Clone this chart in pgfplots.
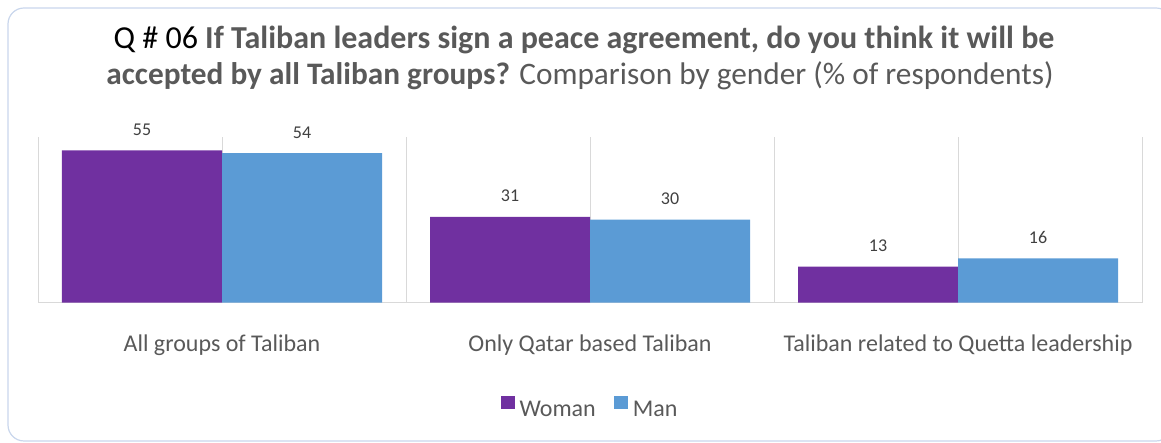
\documentclass[border=0pt]{standalone}
\usepackage{fontspec}
\setmainfont{Carlito}
\usepackage{pgfplots}
\pgfplotsset{compat=1.18}
\definecolor{woman}{HTML}{7030A0}
\definecolor{man}{HTML}{5B9BD5}
\definecolor{txt}{HTML}{595959}
\definecolor{lbl}{HTML}{404040}
\definecolor{gridc}{HTML}{D9D9D9}
\definecolor{framec}{HTML}{C9D6EC}
\begin{document}
\begin{tikzpicture}[x=1pt,y=1pt]
\path[use as bounding box] (0,0) rectangle (1161,443);
\draw[framec, line width=1.2pt, rounded corners=16pt] (8,2) rectangle (1172,435);
\node[font=\fontsize{32}{38}\selectfont, color=txt] at (584,403) {{\color{black}Q \# 06} \textbf{If Taliban leaders sign a peace agreement, do you think it will be}};
\node[font=\fontsize{31.3}{38}\selectfont, color=txt] at (580,367) {\textbf{accepted by all Taliban groups?} Comparison by gender (\% of respondents)};
\begin{axis}[
  at={(38pt,140.4pt)}, anchor=south west,
  scale only axis, width=1104pt, height=166pt,
  xmin=-0.5, xmax=2.5, ymin=0, ymax=60,
  ybar=0pt, bar width=160pt,
  axis x line=bottom, axis y line=none,
  x axis line style={gridc, line width=1pt, -},
  xtick={0,1,2},
  xticklabels={All groups of Taliban, Only Qatar based Taliban, Taliban related to Quetta leadership},
  minor xtick={-0.5,0.5,1.5,2.5},
  xmajorgrids, xminorgrids,
  major grid style={gridc, line width=0.8pt},
  minor grid style={gridc, line width=1pt},
  major tick length=0pt, minor tick length=0pt,
  xticklabel style={font=\fontsize{24}{28}\selectfont, color=txt, anchor=base, yshift=-49pt},
  /pgf/number format/assume math mode=true,
  nodes near coords,
  every node near coord/.append style={font=\fontsize{18}{22}\selectfont, color=lbl, anchor=base, yshift=15pt},
  clip=false,
  legend columns=2,
  legend style={at={(0.5,-0.635)}, anchor=center, draw=none, fill=none,
    font=\fontsize{24}{28}\selectfont, text=txt,
    /tikz/every even column/.append style={column sep=16pt}},
  legend image code/.code={\fill[#1] (0pt,0pt) rectangle (14pt,13pt); \path (17pt,0pt);},
]
\addplot[fill=woman, draw=none] coordinates {(0,55) (1,31) (2,13)};
\addplot[fill=man, draw=none] coordinates {(0,54) (1,30) (2,16)};
\legend{Woman, Man}
\end{axis}
\end{tikzpicture}
\end{document}
